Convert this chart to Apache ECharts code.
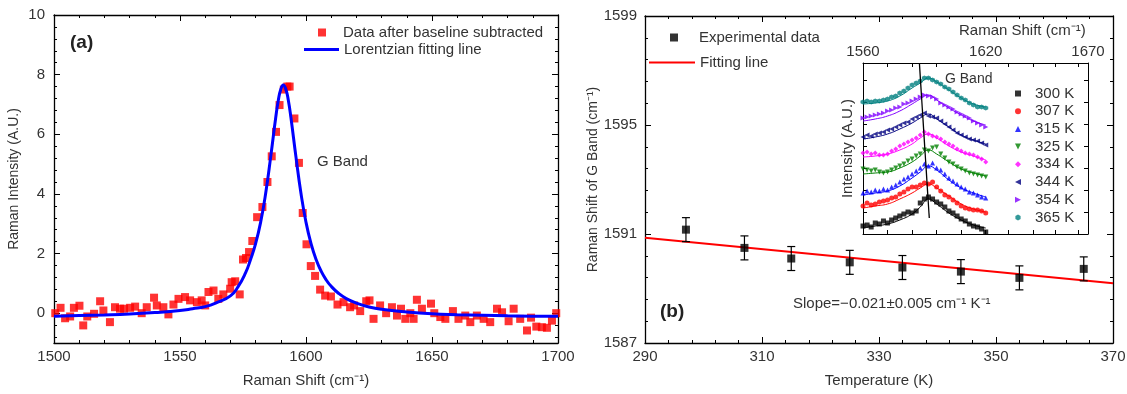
<!DOCTYPE html>
<html><head><meta charset="utf-8">
<script src="https://cdn.jsdelivr.net/npm/echarts@6/dist/echarts.min.js"></script>
<style>html,body{margin:0;padding:0;background:#fff}#c{width:1127px;height:394px}</style>
</head><body><div id="c"></div>
<script>
// ---------- Panel (a): G band spectrum ----------
const aDataX = [1500.5,1502.6,1504.4,1506.4,1507.9,1510.1,1511.6,1513.2,1515.9,1518.3,1519.6,1522.2,1524.2,1526.2,1527.8,1530.2,1532.2,1534.8,1536.8,1539.7,1540.8,1543.4,1545.4,1547.4,1549.4,1552,1554,1556.7,1558.6,1560,1561.3,1563.3,1565.2,1567.2,1569.9,1570.5,1571.9,1573.7,1575,1576.2,1577.4,1578.7,1580.6,1582.7,1584.7,1586.4,1588.1,1589.5,1591.2,1592.6,1593.5,1595.4,1597.2,1598.7,1600.2,1601.9,1603.6,1605.6,1607.6,1609.9,1612.5,1614.9,1617.5,1619.1,1621.5,1623.9,1625.2,1626.8,1629.4,1631.8,1634.1,1636.1,1637.7,1639.4,1641.4,1642.7,1644,1646,1649.6,1650.9,1653.3,1655.3,1658.3,1660.5,1663.2,1665.2,1667.8,1670.5,1673.1,1675.8,1677.8,1680.4,1682.4,1685,1687.7,1689.3,1691.4,1693.6,1695.6,1697.6,1699.3];
const aDataY = [0.0,0.18,-0.17,-0.11,0.18,0.25,-0.41,-0.11,-0.02,0.40,0.09,-0.30,0.20,0.15,0.15,0.18,0.22,0.0,0.20,0.52,0.26,0.20,-0.04,0.29,0.48,0.54,0.43,0.37,0.43,0.26,0.71,0.76,0.48,0.63,0.82,1.04,1.07,0.63,1.80,1.85,2.05,2.42,3.22,3.56,4.40,5.26,6.08,6.98,7.50,7.60,7.60,6.53,5.04,3.36,2.31,1.58,1.25,0.79,0.59,0.56,0.29,0.37,0.20,0.26,0.07,0.40,0.43,-0.19,0.26,0.0,0.20,-0.08,0.15,-0.19,0.0,-0.19,0.45,0.15,0.32,0.0,-0.13,-0.19,0.07,-0.19,-0.08,-0.30,-0.08,-0.19,-0.30,0.15,0.03,-0.27,0.15,-0.19,-0.58,-0.15,-0.45,-0.47,-0.49,-0.25,0.0];
const aFitX = [1500,1510,1520,1530,1540,1550,1555,1560,1565,1570,1573,1576,1578,1580,1582,1584,1586,1588,1589,1590,1591,1592,1593,1594,1596,1598,1600,1602,1604,1606,1608,1610,1613,1616,1620,1625,1630,1640,1650,1660,1670,1680,1690,1700];
const aFitY = [-0.10,-0.08,-0.06,-0.03,0.02,0.09,0.15,0.22,0.37,0.58,0.88,1.35,1.80,2.33,3.05,4.02,5.25,6.57,7.13,7.51,7.65,7.51,7.13,6.57,5.25,4.02,3.05,2.33,1.80,1.41,1.12,0.90,0.66,0.49,0.34,0.21,0.13,0.04,-0.02,-0.05,-0.07,-0.09,-0.10,-0.10];
const aXTicks = [1500,1550,1600,1650,1700];
const aYTicks = [0,2,4,6,8,10];

// ---------- Panel (b): G band position vs temperature ----------
const bTemps = [297,307,315,325,334,344,354,365];
const bShift = [1591.16,1590.49,1590.10,1589.96,1589.77,1589.62,1589.39,1589.72];
const bErr   = [0.44,0.44,0.44,0.44,0.44,0.44,0.44,0.44];
const bFitX = [290,370];
const bFitY = [1590.86,1589.19];
const bXTicks = [290,310,330,350,370];
const bYTicks = [1587,1591,1595,1599];

// ---------- Inset: spectra at each temperature ----------
const insetLabels = ['300 K','307 K','315 K','325 K','334 K','344 K','354 K','365 K'];
const insetColors = ['#000000','#ff0000','#0000ff','#008000','#ff00ff','#000080','#8000ff','#008080'];
const insetX = [1560,1562,1564,1566,1568,1570,1572,1574,1576,1578,1580,1582,1584,1586,1588,1590,1592,1594,1596,1598,1600,1602,1604,1606,1608,1610,1612,1614,1616,1618,1620];
const int300 = [8,9,7,11,10,13,11,14,16,18,20,22,21,23,31,35,37,35,32,30,27,23,21,18,15,13,10,8,7,5,2];
const int307 = [28,31,29,30,32,33,34,36,37,40,42,45,47,47,49,51,50,52,47,43,39,37,34,31,28,26,25,24,24,23,21];
const int315 = [41,43,42,44,43,45,44,47,49,52,55,57,60,63,66,70,68,71,66,64,60,56,53,50,47,45,42,41,39,37,36];
const int325 = [65,64,63,64,62,61,62,64,66,68,70,73,75,78,80,84,83,86,87,80,76,72,70,67,65,63,61,60,59,58,57];
const int334 = [81,82,80,81,79,79,80,83,85,88,90,92,94,96,99,102,100,98,97,95,92,90,88,85,83,81,80,79,77,75,72];
const int344 = [97,99,98,100,101,102,104,105,107,109,111,112,115,117,119,121,118,117,116,113,110,107,104,101,99,97,95,94,93,91,89];
const int354 = [116,117,118,119,120,121,123,124,126,127,130,131,133,135,137,139,138,137,135,131,129,127,125,122,120,118,116,113,111,109,107];
const int365 = [132,133,132,133,133,134,135,137,138,141,143,146,149,151,153,156,156,154,152,150,147,145,142,139,136,134,131,129,127,127,126];
const insetFitX = [1560,1566,1572,1578,1584,1588,1592,1596,1602,1608,1614,1620];
const fit300 = [6,8,10,14,20,27,35,30,21,14,9,6];
const fit307 = [26,28,30,35,41,46,50,46,38,30,25,22];
const fit315 = [39,41,43,48,56,62,68,64,54,46,41,37];
const fit325 = [60,61,62,66,72,78,84,80,72,65,61,58];
const fit334 = [77,78,80,84,90,96,100,96,88,82,78,74];
const fit344 = [95,97,100,105,111,116,120,115,107,99,94,90];
const fit354 = [113,115,118,123,130,135,139,134,126,119,113,109];
const fit365 = [130,131,133,138,146,151,156,152,144,136,130,127];
const insetArrow = [[1592.4,16],[1587.6,170]];
const insetXLabels = [1560,1620,1670];
const insetXTickVals = [1560,1572,1584,1596,1608,1620,1631,1643,1654,1665];
const insetYTickVals = [0,22,44,66,88,110,132,154];

const insetSpectra = [int300,int307,int315,int325,int334,int344,int354,int365];
const insetFits = [fit300,fit307,fit315,fit325,fit334,fit344,fit354,fit365];
const insetSymbols = ['rect','circle','triangle','path://M0,0L10,0L5,10Z','diamond','path://M10,0L10,10L0,5Z','path://M0,0L0,10L10,5Z','path://M5,0L9.33,2.5L9.33,7.5L5,10L0.67,7.5L0.67,2.5Z'];

// minor tick positions
function range(a, b, step) { const r = []; const n = Math.round((b - a) / step); for (let i = 0; i <= n; i++) r.push(+(a + i * step).toFixed(4)); return r; }
const aXMinor = range(1500, 1700, 10);
const aYMinor = range(-0.8, 10, 0.4);
const bXMinor = range(290, 370, 4);
const bYMinor = range(1587, 1599, 0.8);

const FONT = 'Liberation Sans';
const TXT = '#333';
const plain = v => String(v);

function axisSet(kind, grid, min, max, majors, minors, extra) {
  const pos = kind === 'x' ? ['bottom', 'top'] : ['left', 'right'];
  const base = { gridIndex: grid, type: 'value', min: min, max: max, splitLine: { show: false } };
  const line = { show: true, onZero: false, lineStyle: { color: '#000', width: 1.3 } };
  const noLine = { show: false, onZero: false };
  const tick = (vals, len) => ({ show: true, inside: true, length: len, customValues: vals, lineStyle: { color: '#000', width: 1 } });
  const main = Object.assign({}, base, {
    position: pos[0], axisLine: line, axisTick: tick(majors, 6),
    axisLabel: { show: true, customValues: majors, formatter: plain, color: TXT, fontSize: 15, fontFamily: FONT, margin: extra.margin }
  }, extra.name || {});
  const mirror = Object.assign({}, base, { position: pos[1], axisLine: line, axisTick: tick(majors, 6), axisLabel: { show: false } });
  const m1 = Object.assign({}, base, { position: pos[0], axisLine: noLine, axisTick: tick(minors, 3), axisLabel: { show: false } });
  const m2 = Object.assign({}, base, { position: pos[1], axisLine: noLine, axisTick: tick(minors, 3), axisLabel: { show: false } });
  return [main, mirror, m1, m2];
}

const nameStyle = (fs) => ({ color: TXT, fontSize: fs, fontFamily: FONT });
const xAxes = [].concat(
  axisSet('x', 0, 1500, 1700, aXTicks, aXMinor, { margin: 6, name: { name: 'Raman Shift (cm⁻¹)', nameLocation: 'middle', nameGap: 30, nameTextStyle: nameStyle(15) } }),
  axisSet('x', 1, 290, 370, bXTicks, bXMinor, { margin: 6, name: { name: 'Temperature (K)', nameLocation: 'middle', nameGap: 30, nameTextStyle: nameStyle(15) } }),
  [
    { gridIndex: 2, type: 'value', min: 1560, max: 1670, position: 'top', splitLine: { show: false },
      axisLine: { show: true, onZero: false, lineStyle: { color: '#000', width: 1 } },
      axisTick: { show: true, inside: true, length: 4, customValues: insetXTickVals, lineStyle: { color: '#000' } },
      axisLabel: { show: true, customValues: insetXLabels, formatter: plain, color: TXT, fontSize: 15, fontFamily: FONT, margin: 4 } },
    { gridIndex: 2, type: 'value', min: 1560, max: 1670, position: 'bottom', splitLine: { show: false },
      axisLine: { show: true, onZero: false, lineStyle: { color: '#000', width: 1 } },
      axisTick: { show: true, inside: true, length: 4, customValues: insetXTickVals, lineStyle: { color: '#000' } },
      axisLabel: { show: false } }
  ]
);
const yAxes = [].concat(
  axisSet('y', 0, -1, 10, aYTicks, aYMinor, { margin: 9, name: { name: 'Raman Intensity (A.U.)', nameLocation: 'middle', nameRotate: 90, nameGap: 33, nameTextStyle: nameStyle(14) } }),
  axisSet('y', 1, 1587, 1599, bYTicks, bYMinor, { margin: 8, name: { name: 'Raman Shift of G Band (cm⁻¹)', nameLocation: 'middle', nameRotate: 90, nameGap: 43, nameTextStyle: nameStyle(14) } }),
  [
    { gridIndex: 2, type: 'value', min: 0, max: 171, position: 'left', splitLine: { show: false },
      axisLine: { show: true, onZero: false, lineStyle: { color: '#000', width: 1 } },
      axisTick: { show: true, inside: true, length: 4, customValues: insetYTickVals, lineStyle: { color: '#000' } },
      axisLabel: { show: false },
      name: 'Intensity (A.U.)', nameLocation: 'middle', nameRotate: 90, nameGap: 8, nameTextStyle: nameStyle(15) },
    { gridIndex: 2, type: 'value', min: 0, max: 171, position: 'right', splitLine: { show: false },
      axisLine: { show: true, onZero: false, lineStyle: { color: '#000', width: 1 } },
      axisTick: { show: true, inside: true, length: 4, customValues: insetYTickVals, lineStyle: { color: '#000' } },
      axisLabel: { show: false } }
  ]
);

const series = [];
series.push({ name: 'Data after baseline subtracted', type: 'scatter', xAxisIndex: 0, yAxisIndex: 0, symbol: 'rect', symbolSize: 8,
  itemStyle: { color: '#ff0000' }, data: aDataX.map((x, i) => [x, aDataY[i]]), z: 3 });
series.push({ name: 'Lorentzian fitting line', type: 'line', xAxisIndex: 0, yAxisIndex: 0, symbol: 'none', showSymbol: false, smooth: true,
  lineStyle: { color: '#0000ff', width: 3 }, itemStyle: { color: '#0000ff' }, data: aFitX.map((x, i) => [x, aFitY[i]]), z: 4 });

series.push({ name: 'Fitting line', type: 'line', xAxisIndex: 4, yAxisIndex: 4, symbol: 'none', showSymbol: false,
  lineStyle: { color: '#ff0000', width: 2 }, itemStyle: { color: '#ff0000' }, data: bFitX.map((x, i) => [x, bFitY[i]]), z: 2 });
series.push({ name: 'errbars', type: 'custom', xAxisIndex: 4, yAxisIndex: 4, z: 3,
  data: bTemps.map((t, i) => [t, bShift[i] - bErr[i], bShift[i] + bErr[i]]),
  renderItem: function (params, api) {
    const lo = api.coord([api.value(0), api.value(1)]);
    const hi = api.coord([api.value(0), api.value(2)]);
    const w = 4, st = { stroke: '#000', lineWidth: 1.2 };
    return { type: 'group', children: [
      { type: 'line', shape: { x1: lo[0], y1: lo[1], x2: hi[0], y2: hi[1] }, style: st },
      { type: 'line', shape: { x1: lo[0] - w, y1: lo[1], x2: lo[0] + w, y2: lo[1] }, style: st },
      { type: 'line', shape: { x1: hi[0] - w, y1: hi[1], x2: hi[0] + w, y2: hi[1] }, style: st }
    ] };
  } });
series.push({ name: 'Experimental data', type: 'scatter', xAxisIndex: 4, yAxisIndex: 4, symbol: 'rect', symbolSize: 8,
  itemStyle: { color: '#000' }, data: bTemps.map((t, i) => [t, bShift[i]]), z: 5 });

insetSpectra.forEach((arr, k) => {
  series.push({ name: insetLabels[k] + ' fit', type: 'line', xAxisIndex: 8, yAxisIndex: 8, symbol: 'none', showSymbol: false, smooth: true,
    lineStyle: { color: insetColors[k], width: 1 }, data: insetFitX.map((x, i) => [x, insetFits[k][i]]), z: 2 });
  series.push({ name: insetLabels[k], type: 'scatter', xAxisIndex: 8, yAxisIndex: 8, symbol: insetSymbols[k], symbolSize: 5,
    itemStyle: { color: insetColors[k] }, data: insetX.map((x, i) => [x, arr[i]]), z: 3 });
});
series.push({ name: 'arrow', type: 'line', xAxisIndex: 8, yAxisIndex: 8, data: [], z: 6,
  markLine: { silent: true, symbol: ['none', 'arrow'], symbolSize: [0, 8], label: { show: false },
    lineStyle: { color: '#000', width: 1.3, type: 'solid' },
    data: [[{ coord: insetArrow[0] }, { coord: insetArrow[1] }]] } });

const legTxt = (padLeft) => ({ color: TXT, fontSize: 15, fontFamily: FONT, padding: [0, 0, 0, padLeft] });
const leg = (data, left, top, w, h, pad, extra) => Object.assign({ data: data, orient: 'vertical', left: left, top: top,
  itemWidth: w, itemHeight: h, itemGap: 2, selectedMode: false, textStyle: legTxt(pad), padding: 0 }, extra || {});

const option = {
  animation: false,
  backgroundColor: '#fff',
  textStyle: { fontFamily: FONT },
  grid: [
    { left: 54, top: 15, width: 504, height: 328, containLabel: false, outerBoundsMode: 'none' },
    { left: 645, top: 16, width: 468, height: 327, containLabel: false, outerBoundsMode: 'none' },
    { left: 863, top: 63, width: 225, height: 171, containLabel: false, outerBoundsMode: 'none' }
  ],
  xAxis: xAxes,
  yAxis: yAxes,
  legend: [
    leg(['Data after baseline subtracted'], 318, 25, 8, 8, 12, { icon: 'rect' }),
    leg(['Lorentzian fitting line'], 304, 42, 35, 3, 0, { icon: 'rect' }),
    leg(['Experimental data'], 670, 30, 8, 8, 16, { icon: 'rect' }),
    leg(['Fitting line'], 649, 55, 46, 2, 0, { icon: 'rect' }),
    leg(insetLabels, 1015, 86, 6, 6, 9, { itemGap: 2.7 })
  ],
  graphic: [
    { type: 'text', left: 70, top: 33, style: { text: '(a)', font: 'bold 19px "Liberation Sans"', fill: '#222' } },
    { type: 'text', left: 317, top: 154, style: { text: 'G Band', font: '15px "Liberation Sans"', fill: TXT } },
    { type: 'text', left: 660, top: 302, style: { text: '(b)', font: 'bold 19px "Liberation Sans"', fill: '#222' } },
    { type: 'text', left: 793, top: 296, style: { text: 'Slope=\u22120.021\u00b10.005 cm⁻¹ K⁻¹', font: '15px "Liberation Sans"', fill: TXT } },
    { type: 'text', left: 945, top: 72, style: { text: 'G Band', font: '14px "Liberation Sans"', fill: TXT } },
    { type: 'text', left: 959, top: 23, style: { text: 'Raman Shift (cm⁻¹)', font: '15px "Liberation Sans"', fill: TXT } }
  ],
  series: series
};
const chart = echarts.init(document.getElementById('c'), null, { renderer: 'canvas' });
chart.setOption(option);
</script>
</body></html>
